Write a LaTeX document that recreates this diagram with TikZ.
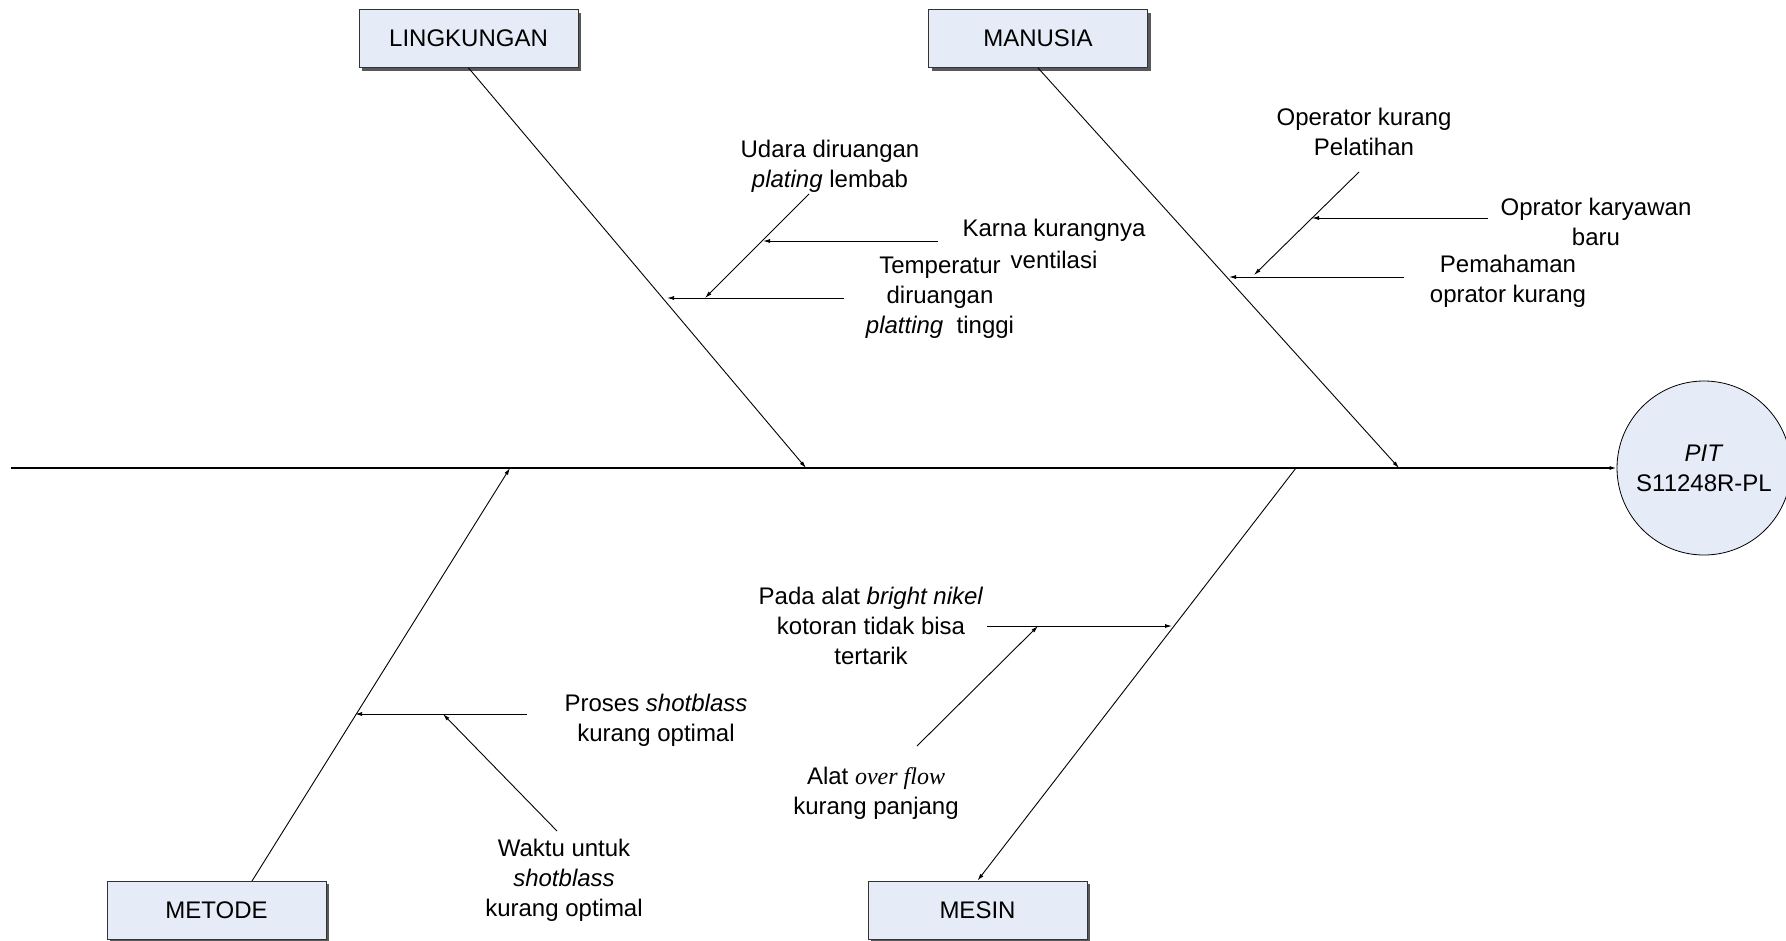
\documentclass[tikz,border=0pt]{standalone}
\usepackage{fontspec}
\setmainfont{Liberation Sans}
\newfontfamily\serifface{Liberation Serif}
\usetikzlibrary{arrows.meta,shadows}
\definecolor{boxfill}{RGB}{230,236,247}
\begin{document}
\begin{tikzpicture}[x=1pt,y=-1pt,
  every node/.style={font=\fontsize{24}{30}\selectfont},
  catbox/.style={draw=black!80,line width=0.8pt,fill=boxfill,
    minimum width=219pt,minimum height=58pt,inner sep=0pt,
    drop shadow={shadow xshift=3pt,shadow yshift=-3pt,fill=black!65,opacity=1}},
  effect/.style={circle,draw=black,line width=0.8pt,fill=boxfill,
    minimum size=174pt,inner sep=0pt,align=center},
  cause/.style={align=center,inner sep=0pt},
  spine/.style={line width=1.3pt,-{Latex[length=7pt,width=4pt]}},
  bone/.style={line width=0.9pt,-{Latex[length=7pt,width=4pt]}}]

\useasboundingbox (0,0) rectangle (1786,940);

% category boxes
\node[catbox] (ling) at (468.5,38.5) {LINGKUNGAN};
\node[catbox] (manu) at (1038,38.5) {MANUSIA};
\node[catbox] (meto) at (216.5,910) {METODE};
\node[catbox] (mesi) at (977.5,910) {MESIN};

% spine and the points where the bones meet it
\coordinate (tail) at (11,468);
\coordinate (jL) at (806,468);
\coordinate (jM) at (1399,468);
\coordinate (jMe) at (510,468);
\coordinate (jMs) at (1296,468);
\coordinate (meTop) at (252,881);

\node[effect] (pit) at (1704,468) {\textit{PIT}\\S11248R-PL};
\draw[spine] (tail) -- (pit.west);

% main bones
\draw[bone] (ling.south) -- (jL);
\draw[bone] (manu.south) -- (jM);
\draw[bone] (meTop) -- (jMe);
\draw[bone] (jMs) -- (mesi.north);

% LINGKUNGAN causes
\coordinate (t1a) at (844,298);  \coordinate (t1b) at (667,298);
\coordinate (u1a) at (809,194);  \coordinate (u1b) at (705,298);
\coordinate (k1a) at (938,241);  \coordinate (k1b) at (763,241);
\draw[bone] (t1a) -- (t1b);
\draw[bone] (u1a) -- (u1b);
\draw[bone] (k1a) -- (k1b);
\node[cause] (udara) at (830,166) {Udara diruangan\\\textit{plating} lembab};
\node[cause,font=\fontsize{24}{32}\selectfont] (karna) at (1054,243.5) {Karna kurangnya\\ventilasi};
\node[cause] (temp) at (940,298) {Temperatur\\diruangan\\\textit{platting}~ tinggi};

% MANUSIA causes
\coordinate (p1a) at (1404,277);  \coordinate (p1b) at (1229,277);
\coordinate (o1a) at (1359,172);  \coordinate (o1b) at (1254,275);
\coordinate (q1a) at (1488,218);  \coordinate (q1b) at (1312,218);
\draw[bone] (p1a) -- (p1b);
\draw[bone] (o1a) -- (o1b);
\draw[bone] (q1a) -- (q1b);
\node[cause] (pelatihan) at (1364,132) {Operator kurang\\Pelatihan};
\node[cause] (baru) at (1596,222) {Oprator karyawan\\baru};
\node[cause] (paham) at (1508,281) {Pemahaman\\oprator kurang};

% MESIN causes
\coordinate (a1a) at (987,626);  \coordinate (a1b) at (1172,626);
\coordinate (f1a) at (917,746);  \coordinate (f1b) at (1038,626);
\draw[bone] (a1a) -- (a1b);
\draw[bone] (f1a) -- (f1b);
\node[cause] (nikel) at (871,626) {Pada alat \textit{bright nikel}\\kotoran tidak bisa\\tertarik};
\node[cause] (flow) at (876,793) {Alat {\serifface\itshape over flow}\\kurang panjang};

% METODE causes
\coordinate (s1a) at (527,714);  \coordinate (s1b) at (355,714);
\coordinate (w1a) at (557,831);  \coordinate (w1b) at (443,714);
\draw[bone] (s1a) -- (s1b);
\draw[bone] (w1a) -- (w1b);
\node[cause] (proses) at (656,720) {Proses \textit{shotblass}\\kurang optimal};
\node[cause] (waktu) at (564,880) {Waktu untuk\\\textit{shotblass}\\kurang optimal};
\end{tikzpicture}
\end{document}
